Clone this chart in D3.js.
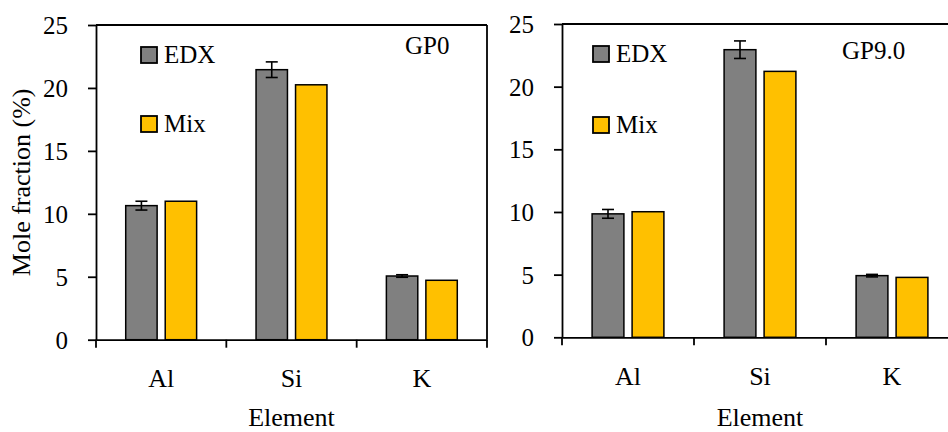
<!DOCTYPE html>
<html>
<head>
<meta charset="utf-8">
<title>Mole fraction by element</title>
<script src="https://d3js.org/d3.v7.min.js"></script>
<style>
    body { margin: 0; background: #fff; }
    svg text { font-family: "Liberation Serif", "DejaVu Serif"; fill: #000; }
    .axis path, .axis line { stroke: #000; stroke-width: 1.8px; }
    .axis text { font-size: 25px; }
</style>
</head>
<body>
<svg width="948" height="432"></svg>
<script>

// values
var elements = ["Al", "Si", "K"];
var seriesNames = ["EDX", "Mix"];
var seriesColors = ["#808080", "#FFC000"];
var yTicks = [0, 5, 10, 15, 20, 25];

var gp0Edx    = [10.65, 21.45, 5.06];
var gp0EdxErr = [0.35, 0.62, 0.1];
var gp0Mix    = [11.0, 20.25, 4.72];

var gp9Edx    = [9.85, 22.95, 4.92];
var gp9EdxErr = [0.35, 0.7, 0.1];
var gp9Mix    = [10.02, 21.22, 4.78];

var svg = d3.select("svg");

// layout of the two panels
var panels = [
    { name: "GP0", edx: gp0Edx, err: gp0EdxErr, mix: gp0Mix,
      left: 96, right: 487, top: 25, bottom: 339.7,
      nameX: 405, nameY: 54, legendX: 141, legendY: [47, 116], yTitle: true },
    { name: "GP9.0", edx: gp9Edx, err: gp9EdxErr, mix: gp9Mix,
      left: 562, right: 958, top: 24, bottom: 337.3,
      nameX: 842, nameY: 59, legendX: 593, legendY: [46, 117], yTitle: false }
];

panels.forEach(function(p) {

    var g = svg.append("g");

    var x = d3.scaleBand()
        .domain(elements)
        .range([p.left, p.right]);

    var bw = x.bandwidth();
    var xs = d3.scaleBand()
        .domain(seriesNames)
        .range([bw * 0.228, bw * 0.772])
        .paddingInner(0.205);

    var y = d3.scaleLinear()
        .domain([0, 25])
        .range([p.bottom, p.top]);

    // frame top + right
    g.append("line")
        .attr("x1", p.left).attr("x2", p.right)
        .attr("y1", y(25)).attr("y2", y(25))
        .attr("stroke", "#000").attr("stroke-width", 1.8);
    g.append("line")
        .attr("x1", p.right).attr("x2", p.right)
        .attr("y1", y(25)).attr("y2", y(0))
        .attr("stroke", "#000").attr("stroke-width", 1.8);

    // bars
    var rows = elements.map(function(e, i) {
        return { el: e, vals: [p.edx[i], p.mix[i]], err: p.err[i] };
    });

    var grp = g.selectAll(".grp")
        .data(rows)
        .enter().append("g")
        .attr("class", "grp")
        .attr("transform", function(d) { return "translate(" + x(d.el) + ",0)"; });

    grp.selectAll("rect")
        .data(function(d) { return d.vals.map(function(v, j) { return { s: seriesNames[j], v: v, j: j }; }); })
        .enter().append("rect")
        .attr("x", function(d) { return xs(d.s); })
        .attr("width", xs.bandwidth())
        .attr("y", function(d) { return y(d.v); })
        .attr("height", function(d) { return y(0) - y(d.v); })
        .attr("fill", function(d) { return seriesColors[d.j]; })
        .attr("stroke", "#000")
        .attr("stroke-width", 1.5);

    // error bars on EDX
    grp.each(function(d) {
        var cx = xs("EDX") + xs.bandwidth() / 2;
        var e = d3.select(this).append("g")
            .attr("stroke", "#000").attr("stroke-width", 1.6);
        e.append("line")
            .attr("x1", cx).attr("x2", cx)
            .attr("y1", y(d.vals[0] - d.err)).attr("y2", y(d.vals[0] + d.err));
        [d.vals[0] - d.err, d.vals[0] + d.err].forEach(function(v) {
            e.append("line")
                .attr("x1", cx - 6).attr("x2", cx + 6)
                .attr("y1", y(v)).attr("y2", y(v));
        });
    });

    // y axis
    g.append("g")
        .attr("class", "axis")
        .attr("transform", "translate(" + p.left + ",0)")
        .call(d3.axisLeft(y).tickValues(yTicks).tickSize(8).tickSizeOuter(0).tickPadding(20))
        .selectAll("text").attr("dy", "0.34em");

    // x axis: baseline, boundary ticks, labels
    var xa = g.append("g")
        .attr("class", "axis")
        .attr("transform", "translate(0," + y(0) + ")")
        .call(d3.axisBottom(x).tickSize(0).tickSizeOuter(0).tickPadding(29));
    xa.selectAll("text").style("font-size", "26px");

    d3.range(elements.length + 1).forEach(function(i) {
        var bx = x.range()[0] + i * x.step();
        xa.append("line")
            .attr("x1", bx).attr("x2", bx)
            .attr("y1", 0).attr("y2", 8);
    });

    g.append("text")
        .attr("x", (p.left + p.right) / 2)
        .attr("y", 426)
        .attr("text-anchor", "middle")
        .style("font-size", "26px")
        .text("Element");

    if (p.yTitle) {
        g.append("text")
            .attr("transform", "translate(30," + (p.top + p.bottom) / 2 + ") rotate(-90)")
            .attr("text-anchor", "middle")
            .style("font-size", "26px")
            .text("Mole fraction (%)");
    }

    // panel name
    g.append("text")
        .attr("x", p.nameX)
        .attr("y", p.nameY)
        .style("font-size", "25px")
        .text(p.name);

    // legend
    seriesNames.forEach(function(s, j) {
        g.append("rect")
            .attr("x", p.legendX).attr("y", p.legendY[j])
            .attr("width", 16).attr("height", 16)
            .attr("fill", seriesColors[j])
            .attr("stroke", "#000").attr("stroke-width", 1.8);
        g.append("text")
            .attr("x", p.legendX + 23)
            .attr("y", p.legendY[j] + 16)
            .style("font-size", "25px")
            .text(s);
    });
});

</script>
</body>
</html>
